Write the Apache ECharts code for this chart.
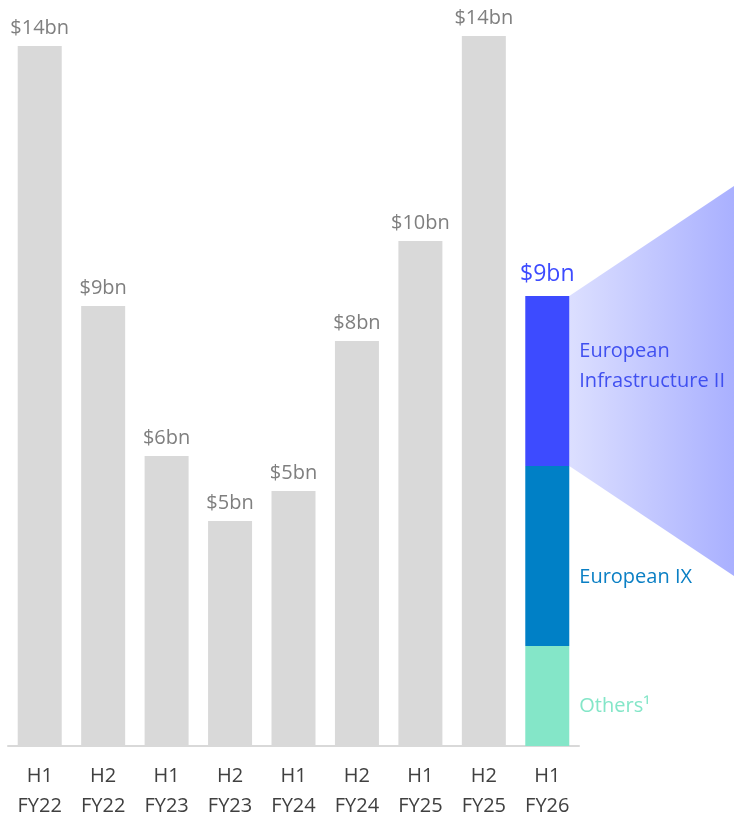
<!DOCTYPE html>
<html>
<head>
<meta charset="utf-8">
<script src="https://cdn.jsdelivr.net/npm/echarts@6/dist/echarts.min.js"></script>
<style>
  html, body { margin: 0; padding: 0; background: #ffffff; }
  #chart { width: 734px; height: 817px; }
</style>
</head>
<body>
<div id="chart"></div>
<script>
// Half-year periods on the category axis
const periods = ['H1\nFY22', 'H2\nFY22', 'H1\nFY23', 'H2\nFY23', 'H1\nFY24', 'H2\nFY24', 'H1\nFY25', 'H2\nFY25', 'H1\nFY26'];

// Historical totals, $bn (the latest period is broken down below)
const historyTotals = [14.0, 8.8, 5.8, 4.5, 5.1, 8.1, 10.1, 14.2, null];

// Latest period breakdown, $bn
const othersValues = [null, null, null, null, null, null, null, null, 2.0];
const europeanIXValues = [null, null, null, null, null, null, null, null, 3.6];
const europeanInfraIIValues = [null, null, null, null, null, null, null, null, 3.4];

const FONT = '"Open Sans", "Noto Sans", sans-serif';
const BAR_W = 44;

const chart = echarts.init(document.getElementById('chart'), null, { renderer: 'canvas' });

function latestTotal() {
  const i = periods.length - 1;
  return othersValues[i] + europeanIXValues[i] + europeanInfraIIValues[i];
}

const option = {
  backgroundColor: '#ffffff',
  animation: false,
  grid: { left: 8, right: 155, top: 36, bottom: 71, containLabel: false, outerBoundsMode: 'none' },
  xAxis: {
    type: 'category',
    data: periods,
    axisLine: { show: true, lineStyle: { color: '#d9d9d9', width: 2 } },
    axisTick: { show: false },
    axisLabel: {
      color: '#404040',
      fontFamily: FONT,
      fontSize: 20,
      lineHeight: 30,
      margin: 15,
      interval: 0
    }
  },
  yAxis: {
    type: 'value',
    min: 0,
    max: 14.2,
    show: false,
    splitLine: { show: false }
  },
  series: [
    {
      name: 'History',
      type: 'bar',
      data: historyTotals,
      barWidth: BAR_W,
      barGap: '-100%',
      itemStyle: { color: '#d9d9d9' },
      label: {
        show: true,
        position: 'top',
        distance: 8,
        color: '#7f7f7f',
        fontFamily: FONT,
        fontSize: 20,
        formatter: p => '$' + Math.round(p.value) + 'bn'
      }
    },
    {
      name: 'Others',
      type: 'bar',
      stack: 'latest',
      data: othersValues,
      barWidth: BAR_W,
      barGap: '-100%',
      itemStyle: { color: '#84e6c8' },
      label: {
        show: true,
        position: 'right',
        distance: 10,
        offset: [0, 10],
        color: '#84e6c8',
        fontFamily: FONT,
        fontSize: 20,
        formatter: () => 'Others¹'
      }
    },
    {
      name: 'European IX',
      type: 'bar',
      stack: 'latest',
      data: europeanIXValues,
      barWidth: BAR_W,
      barGap: '-100%',
      itemStyle: { color: '#0080c6' },
      label: {
        show: true,
        position: 'right',
        distance: 10,
        offset: [0, 21],
        color: '#0a7fc4',
        fontFamily: FONT,
        fontSize: 20,
        formatter: () => 'European IX'
      }
    },
    {
      name: 'European Infrastructure II',
      type: 'bar',
      stack: 'latest',
      data: europeanInfraIIValues,
      barWidth: BAR_W,
      barGap: '-100%',
      itemStyle: { color: '#3d4bff' },
      label: {
        show: true,
        position: 'right',
        distance: 10,
        offset: [0, -15],
        align: 'left',
        lineHeight: 30,
        color: '#4050f0',
        fontFamily: FONT,
        fontSize: 20,
        formatter: () => 'European\nInfrastructure II'
      }
    },
    {
      // zero-height cap carrying the total label of the latest period
      name: 'Total',
      type: 'bar',
      stack: 'latest',
      data: periods.map((_, i) => (i === periods.length - 1 ? 0 : null)),
      barWidth: BAR_W,
      barGap: '-100%',
      itemStyle: { color: 'transparent' },
      label: {
        show: true,
        position: 'top',
        distance: 10,
        color: '#3d4bff',
        fontFamily: FONT,
        fontSize: 23,
        formatter: () => '$' + Math.round(latestTotal()) + 'bn'
      }
    }
  ]
};

chart.setOption(option);

// Fan shape widening from the European Infrastructure II segment to the right edge
(function drawFan() {
  const i = periods.length - 1;
  const segTop = othersValues[i] + europeanIXValues[i] + europeanInfraIIValues[i];
  const segBottom = othersValues[i] + europeanIXValues[i];
  const fanTop = 11.2;
  const fanBottom = 3.4;
  const pTop = chart.convertToPixel({ gridIndex: 0 }, [i, segTop]);
  const pBottom = chart.convertToPixel({ gridIndex: 0 }, [i, segBottom]);
  const rTop = chart.convertToPixel({ gridIndex: 0 }, [i, fanTop]);
  const rBottom = chart.convertToPixel({ gridIndex: 0 }, [i, fanBottom]);
  const xLeft = pTop[0] + BAR_W / 2;
  const xRight = chart.getWidth();
  chart.setOption({
    graphic: [{
      type: 'polygon',
      z: 0,
      silent: true,
      shape: {
        points: [[xLeft, pTop[1]], [xRight, rTop[1]], [xRight, rBottom[1]], [xLeft, pBottom[1]]]
      },
      style: {
        fill: new echarts.graphic.LinearGradient(0, 0, 1, 0, [
          { offset: 0, color: '#dcdfff' },
          { offset: 1, color: '#a9b0ff' }
        ])
      }
    }]
  });
})();
</script>
</body>
</html>
